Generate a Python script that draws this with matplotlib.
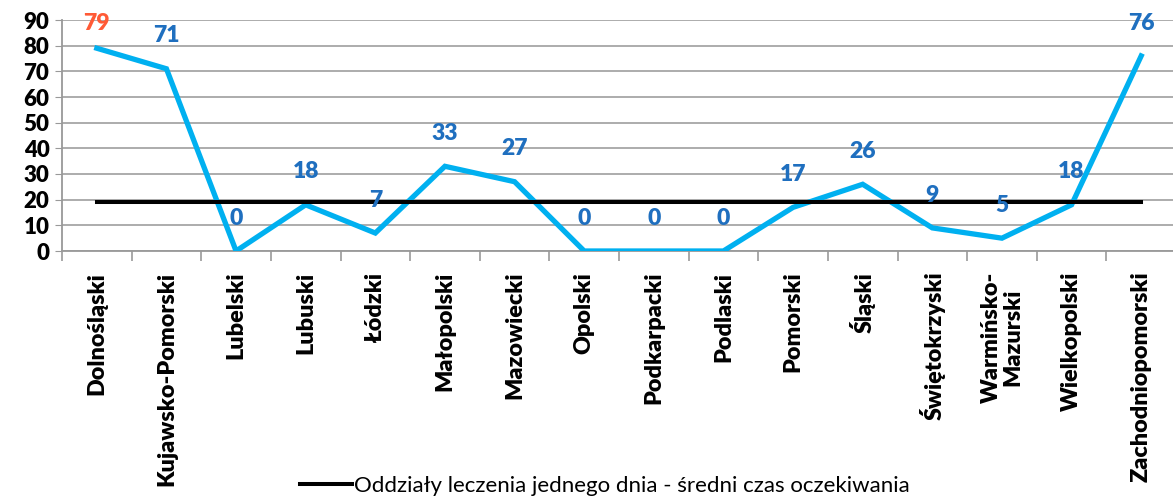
import matplotlib.pyplot as plt
import numpy as np

# dane
regions = ["Dolnośląski", "Kujawsko-Pomorski", "Lubelski", "Lubuski", "Łódzki",
           "Małopolski", "Mazowiecki", "Opolski", "Podkarpacki", "Podlaski",
           "Pomorski", "Śląski", "Świętokrzyski", "Warmińsko-\nMazurski",
           "Wielkopolski", "Zachodniopomorski"]
wait_days = [79, 71, 0, 18, 7, 33, 27, 0, 0, 0, 17, 26, 9, 5, 18, 76]
average = [19] * len(regions)
legend_label = "Oddziały leczenia jednego dnia - średni czas oczekiwania"

plt.rcParams['font.family'] = ['Lato', 'DejaVu Sans']

fig = plt.figure(figsize=(11.73, 5.04), dpi=100)
ax = fig.add_axes([62 / 1173, 253 / 504, 1114 / 1173, 231 / 504])

x = np.arange(len(regions))
ax.plot(x, wait_days, color="#00B0F0", lw=3.8, solid_joinstyle="miter", zorder=3)
avg_line, = ax.plot(x, average, color="black", lw=2.9, zorder=4, label=legend_label)

# etykiety danych
for i, v in enumerate(wait_days):
    color = "#FF5A36" if i == 0 else "#1F6FBF"
    y = min(v + 12.8, 88.5)
    ax.text(i, y, str(v), ha="center", va="center", fontsize=16.5,
            fontweight="heavy", color=color, zorder=5)

ax.set_xlim(-0.5, len(regions) - 0.5)
ax.set_ylim(0, 90)
ax.set_yticks(range(0, 91, 10))
ax.set_yticklabels([str(t) for t in range(0, 91, 10)], fontsize=16, fontweight="heavy")
ax.tick_params(axis="y", length=5, color="#999999", pad=4)

ax.set_xticks(np.arange(-0.5, len(regions), 1))
ax.set_xticklabels([])
ax.set_xticks(x, minor=True)
ax.set_xticklabels(regions, minor=True, rotation=90, fontsize=16.8,
                   fontweight="heavy", va="top", ha="center", linespacing=1.0)
ax.tick_params(axis="x", which="major", length=7, color="#999999", width=1.2)
ax.tick_params(axis="x", which="minor", length=0, pad=15)

ax.grid(axis="y", color="#A6A6A6", lw=1.3)
ax.set_axisbelow(True)
for side in ["top", "right"]:
    ax.spines[side].set_visible(False)
for side in ["left", "bottom"]:
    ax.spines[side].set_color("#999999")
    ax.spines[side].set_linewidth(1.3)

fig.legend(handles=[avg_line], loc="center", bbox_to_anchor=(605 / 1173, 1 - 486 / 504),
           frameon=False, fontsize=16, handlelength=2.3, handletextpad=0.1)

fig.savefig("out.png", dpi=100)
